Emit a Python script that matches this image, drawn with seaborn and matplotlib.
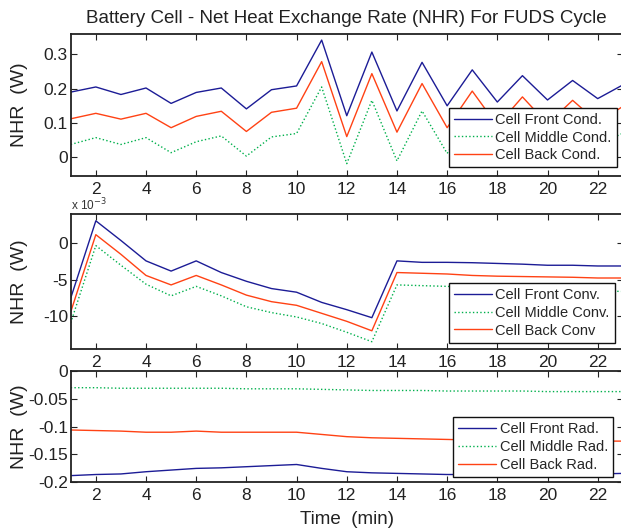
import matplotlib
matplotlib.use('Agg')
import matplotlib.pyplot as plt
import seaborn as sns
from matplotlib.ticker import FuncFormatter

# Time axis (min)
minutes = list(range(1, 24))

# Conduction (W)
front_cond = [0.190, 0.205, 0.183, 0.202, 0.157, 0.189, 0.202, 0.141, 0.197, 0.208, 0.342,
              0.121, 0.307, 0.135, 0.277, 0.150, 0.255, 0.161, 0.238, 0.167, 0.224, 0.171, 0.211]
middle_cond = [0.037, 0.057, 0.037, 0.057, 0.013, 0.045, 0.062, 0.003, 0.059, 0.069, 0.205,
               -0.019, 0.166, -0.011, 0.135, 0.011, 0.120, 0.020, 0.105, 0.028, 0.095, 0.035, 0.070]
back_cond = [0.112, 0.128, 0.111, 0.128, 0.086, 0.119, 0.134, 0.075, 0.131, 0.143, 0.279,
             0.060, 0.244, 0.073, 0.215, 0.086, 0.193, 0.092, 0.176, 0.097, 0.166, 0.102, 0.148]

# Convection (W)
front_conv = [-0.0075, 0.0031, 0.0004, -0.0024, -0.0038, -0.0024, -0.0040, -0.0052, -0.0062, -0.0067,
              -0.0081, -0.0091, -0.0102, -0.0024, -0.0026, -0.0026, -0.00265, -0.00275, -0.00285,
              -0.0030, -0.0030, -0.0031, -0.0031]
middle_conv = [-0.0109, -0.0003, -0.0030, -0.0056, -0.0072, -0.0059, -0.0072, -0.0087, -0.0095, -0.0101,
               -0.0110, -0.0122, -0.0135, -0.0057, -0.0058, -0.0059, -0.0060, -0.0061, -0.0062,
               -0.0063, -0.0064, -0.0065, -0.0066]
back_conv = [-0.0094, 0.0012, -0.0015, -0.0044, -0.0057, -0.0044, -0.0057, -0.0071, -0.0080, -0.0085,
             -0.0096, -0.0107, -0.0120, -0.0040, -0.0041, -0.0042, -0.0044, -0.0045, -0.00455,
             -0.0046, -0.00465, -0.00475, -0.00475]

# Radiation (W)
front_rad = [-0.188, -0.186, -0.185, -0.181, -0.178, -0.175, -0.174, -0.172, -0.170, -0.168,
             -0.175, -0.181, -0.183, -0.184, -0.185, -0.186, -0.186, -0.186, -0.186, -0.186,
             -0.185, -0.185, -0.184]
middle_rad = [-0.030, -0.030, -0.031, -0.031, -0.031, -0.031, -0.031, -0.032, -0.032, -0.032,
              -0.033, -0.034, -0.035, -0.035, -0.035, -0.036, -0.036, -0.036, -0.036, -0.037,
              -0.037, -0.037, -0.037]
back_rad = [-0.106, -0.107, -0.108, -0.110, -0.110, -0.108, -0.110, -0.110, -0.110, -0.110,
            -0.114, -0.118, -0.120, -0.121, -0.122, -0.123, -0.124, -0.124, -0.125, -0.125,
            -0.125, -0.126, -0.126]

BLUE = '#1c1c96'
GREEN = '#00b04c'
ORANGE = '#ff4214'

sns.set_style('ticks')
plt.rcParams['font.family'] = ['Liberation Sans', 'DejaVu Sans']
plt.rcParams['axes.unicode_minus'] = False

fig = plt.figure(figsize=(6.21, 5.30), dpi=100)
ax1 = fig.add_axes([0.1139, 0.668, 0.889, 0.268])
ax2 = fig.add_axes([0.1139, 0.3415, 0.889, 0.2542])
ax3 = fig.add_axes([0.1139, 0.09, 0.889, 0.21])

panels = [
    (ax1, [front_cond, middle_cond, back_cond],
     ['Cell Front Cond.', 'Cell Middle Cond.', 'Cell Back Cond.'],
     (-0.055, 0.36), [0, 0.1, 0.2, 0.3], (0.989, 0.061)),
    (ax2, [front_conv, middle_conv, back_conv],
     ['Cell Front Conv.', 'Cell Middle Conv.', 'Cell Back Conv'],
     (-0.0145, 0.004), [-0.01, -0.005, 0], (0.9855, 0.047)),
    (ax3, [front_rad, middle_rad, back_rad],
     ['Cell Front Rad.', 'Cell Middle Rad.', 'Cell Back Rad.'],
     (-0.2, 0), [-0.2, -0.15, -0.1, -0.05, 0], (0.9825, 0.05)),
]

for ax, series, labels, ylim, yticks, anchor in panels:
    for vals, lab, col, ls in zip(series, labels, [BLUE, GREEN, ORANGE], ['-', ':', '-']):
        sns.lineplot(x=minutes, y=vals, ax=ax, color=col, linestyle=ls, linewidth=1.0, label=lab)
    ax.set_xlim(1, 23)
    ax.set_ylim(*ylim)
    ax.set_xticks(range(2, 23, 2))
    ax.set_yticks(yticks)
    ax.tick_params(direction='in', labelsize=12.5, length=4, width=0.8, colors='#222222',
                   top=True, right=True)
    ax.tick_params(axis='x', pad=4)
    ax.tick_params(axis='y', pad=2)
    for sp in ax.spines.values():
        sp.set_visible(True)
        sp.set_linewidth(1.3)
        sp.set_color('#222222')
    ax.set_ylabel('NHR  (W)', fontsize=14, color='#222222')
    ax.yaxis.set_label_coords(-0.077, 0.5)
    leg = ax.legend(loc='lower right', bbox_to_anchor=anchor, fontsize=10.5, fancybox=False,
                    edgecolor='#111111', framealpha=1, handlelength=2.6, handletextpad=0.25,
                    borderpad=0.35, labelspacing=0.25, borderaxespad=0)
    leg.get_frame().set_linewidth(1.0)

ax1.yaxis.set_major_formatter(FuncFormatter(lambda v, p: f'{v:g}'))
ax2.yaxis.set_major_formatter(FuncFormatter(lambda v, p: f'{v * 1e3:g}'))
ax3.yaxis.set_major_formatter(FuncFormatter(lambda v, p: f'{v:g}'))
ax2.text(0, 1.008, r'x 10$^{-3}$', transform=ax2.transAxes, fontsize=8.5, color='#333333',
         ha='left', va='bottom')

ax1.set_title('Battery Cell - Net Heat Exchange Rate (NHR) For FUDS Cycle', fontsize=13.5,
              color='#222222', pad=8)
ax3.set_xlabel('Time  (min)', fontsize=13.5, color='#222222', labelpad=6)

fig.savefig('out.png', dpi=100)
